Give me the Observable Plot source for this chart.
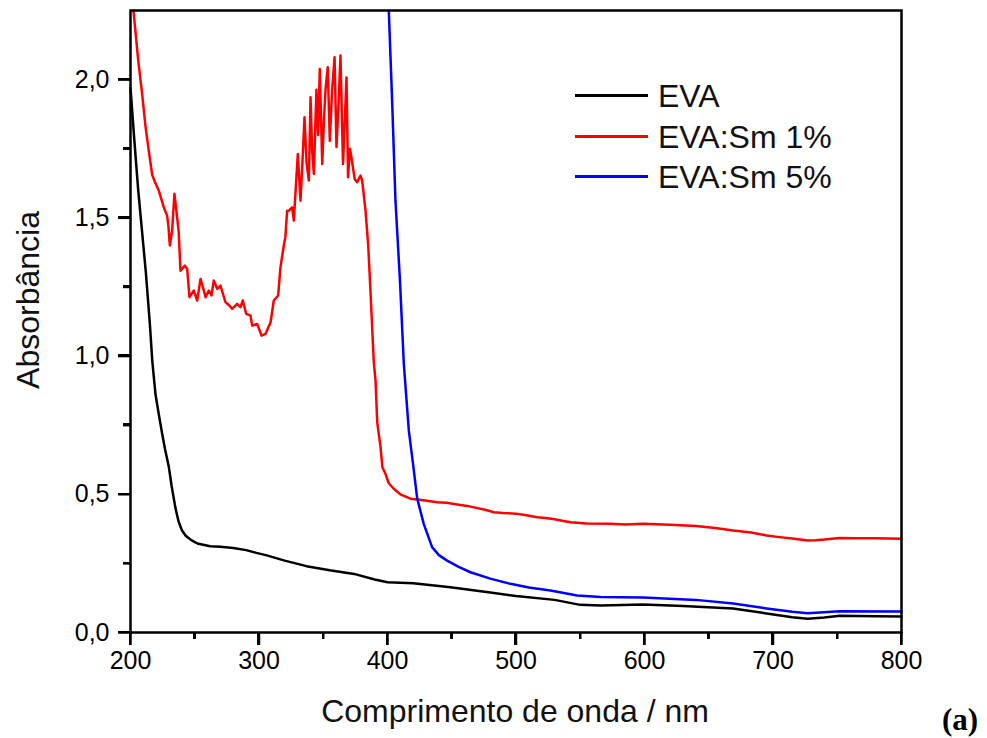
<!DOCTYPE html>
<html>
<head>
<meta charset="utf-8">
<script src="https://cdn.jsdelivr.net/npm/d3@7"></script>
<script src="https://cdn.jsdelivr.net/npm/@observablehq/plot@0.6"></script>
<style>
  body { margin: 0; background: #fff; }
  #wrap { position: relative; width: 987px; height: 738px; font-family: "Liberation Sans", Arial, sans-serif; color: #000; }
  #wrap svg { position: absolute; left: 0; top: 0; font-family: "Liberation Sans", Arial, sans-serif; }
  .ttl { position: absolute; font-size: 32px; line-height: 1; white-space: nowrap; color: #111; }
  #tag { position: absolute; left: 942px; top: 704px; font-family: "Liberation Serif", "Times New Roman", serif; font-weight: bold; font-size: 31px; line-height: 1; }
  .tk { position: absolute; background: #000; }
</style>
</head>
<body>
<div id="wrap">
  <div class="ttl" id="ytitle" style="left:28px; top:300px; transform: translate(-50%,-50%) rotate(-90deg);">Absorbância</div>
  <div class="ttl" id="xtitle" style="left:515px; top:695px; transform: translateX(-50%);">Comprimento de onda / nm</div>
  <div id="tag">(a)</div>
</div>
<script>
// ---- Data ----
const seriesNames = ["EVA", "EVA:Sm 1%", "EVA:Sm 5%"];
const seriesColors = ["#000000", "#ff0000", "#0000ff"];

const evaWl  = [200, 203, 206, 209, 212, 215, 217, 219.5, 222, 224.6, 227, 229.8, 232, 235, 237.5, 240, 243, 247, 252, 262, 270, 280, 290, 298, 306, 320, 337, 355, 374, 390, 400, 420, 449, 480, 500, 530, 550, 566, 599, 630, 669, 695, 715, 727, 740, 752, 780, 800];
const evaAbs = [1.97, 1.78, 1.60, 1.45, 1.30, 1.12, 0.98, 0.86, 0.79, 0.72, 0.66, 0.60, 0.53, 0.45, 0.40, 0.37, 0.35, 0.335, 0.322, 0.312, 0.31, 0.306, 0.298, 0.288, 0.279, 0.26, 0.24, 0.225, 0.212, 0.192, 0.182, 0.178, 0.164, 0.145, 0.132, 0.118, 0.10, 0.098, 0.101, 0.096, 0.087, 0.069, 0.055, 0.05, 0.054, 0.061, 0.059, 0.058];

const sm1Wl  = [202.3, 206, 209, 211.7, 214.2, 216.9, 219, 222, 225.9, 228.5, 229.5, 230.6, 232.4, 234.2, 236.3, 237.5, 238.9, 242.3, 244.1, 245.9, 249.3, 251.9, 254.5, 257.1, 258.4, 261, 263, 264.8, 267.5, 270, 273.9, 276.5, 279.1, 283, 285.6, 287.4, 290, 293.4, 294.7, 298.6, 302, 305, 309, 311.5, 314.9, 316.7, 319.3, 320.5, 321.9, 323.2, 325.8, 327.1, 330.2, 332.3, 333.8, 335.4, 337, 338.8, 340.1, 341.4, 342.7, 344.7, 346, 347.3, 349.2, 350.5, 351.8, 353.5, 355.1, 356.9, 358.8, 360.3, 361.8, 363.4, 365.4, 368.1, 369.3, 370.8, 372.5, 374.5, 376.4, 379, 380.3, 382.9, 385, 386.8, 389.3, 390.7, 392, 394.6, 396, 398.4, 401, 404.9, 410, 417.9, 428, 438.7, 446, 454.2, 462, 470, 476, 482.7, 490, 500, 508, 516.5, 523, 530, 536, 542.4, 555, 573.5, 585, 599, 620, 640, 655, 669, 683, 695, 705, 715, 727, 733, 740, 752, 765, 780, 790, 800];
const sm1Abs = [2.25, 2.07, 1.95, 1.83, 1.743, 1.655, 1.63, 1.599, 1.538, 1.508, 1.47, 1.40, 1.454, 1.587, 1.502, 1.45, 1.309, 1.327, 1.315, 1.213, 1.237, 1.201, 1.279, 1.237, 1.213, 1.237, 1.219, 1.273, 1.243, 1.255, 1.195, 1.185, 1.171, 1.189, 1.177, 1.201, 1.153, 1.146, 1.11, 1.116, 1.074, 1.08, 1.122, 1.201, 1.219, 1.321, 1.40, 1.43, 1.526, 1.526, 1.538, 1.49, 1.731, 1.562, 1.70, 1.864, 1.70, 1.635, 1.936, 1.74, 1.659, 1.963, 1.80, 2.038, 1.695, 1.85, 1.966, 2.045, 1.779, 1.96, 2.081, 1.756, 1.90, 2.087, 1.695, 2.008, 1.647, 1.75, 1.701, 1.64, 1.629, 1.653, 1.635, 1.526, 1.40, 1.23, 0.98, 0.911, 0.76, 0.67, 0.598, 0.574, 0.54, 0.52, 0.50, 0.484, 0.478, 0.471, 0.469, 0.463, 0.458, 0.45, 0.444, 0.435, 0.432, 0.43, 0.424, 0.417, 0.414, 0.41, 0.404, 0.399, 0.394, 0.393, 0.391, 0.393, 0.39, 0.385, 0.378, 0.369, 0.362, 0.351, 0.345, 0.34, 0.333, 0.334, 0.336, 0.342, 0.341, 0.341, 0.340, 0.339];

const sm5Wl  = [401, 403.6, 406.2, 409.7, 412.7, 416.6, 420.2, 423.1, 428.2, 434.7, 440, 446.4, 455, 464.6, 480, 495.7, 510, 526.8, 547.6, 566, 599, 640, 669, 695, 715, 727, 752, 800];
const sm5Abs = [2.25, 1.924, 1.562, 1.273, 0.972, 0.73, 0.597, 0.485, 0.393, 0.309, 0.28, 0.26, 0.238, 0.218, 0.195, 0.176, 0.163, 0.152, 0.134, 0.128, 0.127, 0.118, 0.105, 0.087, 0.075, 0.07, 0.077, 0.076];

const xTicks = [200, 300, 400, 500, 600, 700, 800];
const xMinor = [250, 350, 450, 550, 650, 750];
const yTicks = [0, 0.5, 1.0, 1.5, 2.0];
const yMinor = [0.25, 0.75, 1.25, 1.75];

// ---- Build table ----
const rows = [];
[[evaWl, evaAbs], [sm1Wl, sm1Abs], [sm5Wl, sm5Abs]].forEach(([w, a], i) => {
  w.forEach((x, j) => rows.push({wl: x, abs: a[j], s: seriesNames[i]}));
});

const fmt = d => d.toFixed(1).replace(".", ",");

const chart = Plot.plot({
  width: 987, height: 738, marginLeft: 130, marginRight: 86, marginTop: 10, marginBottom: 106,
  style: {fontSize: "25px", color: "#000"},
  x: {domain: [200, 800]},
  y: {domain: [0, 2.25]},
  color: {domain: seriesNames, range: seriesColors},
  marks: [
    Plot.axisX({ticks: xTicks, tickSize: 13, tickPadding: 6, strokeWidth: 2.5, label: null}),
    Plot.axisX({ticks: xMinor, tickSize: 7, text: null, strokeWidth: 2.5, label: null}),
    Plot.axisY({ticks: yTicks, tickSize: 12, tickPadding: 9, strokeWidth: 2.5, label: null, tickFormat: fmt}),
    Plot.axisY({ticks: yMinor, tickSize: 7, text: null, strokeWidth: 2.5, label: null}),
    Plot.line(rows, {x: "wl", y: "abs", z: "s", stroke: "s", strokeWidth: 2.5}),
    Plot.frame({stroke: "#000", strokeWidth: 2.5})
  ]
});
const wrap = document.getElementById("wrap");
wrap.insertBefore(chart, wrap.firstChild);

// ---- Outward tick marks, placed through the plot's own scales ----
const sx = chart.scale("x"), sy = chart.scale("y");
const x0 = sx.apply(200), y0 = sy.apply(0);
function addTick(left, top, w, h) {
  const d = document.createElement("div");
  d.className = "tk";
  d.style.left = left + "px"; d.style.top = top + "px";
  d.style.width = w + "px"; d.style.height = h + "px";
  wrap.appendChild(d);
}
xTicks.forEach(v => addTick(sx.apply(v) - 1.25, y0, 2.5, 13));
xMinor.forEach(v => addTick(sx.apply(v) - 1.25, y0, 2.5, 7));
yTicks.forEach(v => addTick(x0 - 12, sy.apply(v) - 1.25, 12, 2.5));
yMinor.forEach(v => addTick(x0 - 7, sy.apply(v) - 1.25, 7, 2.5));

// ---- Legend (inside the SVG) ----
const leg = d3.select(chart).append("g").attr("aria-label", "legend");
const legY = [95.5, 136.5, 176.5];
seriesNames.forEach((name, i) => {
  leg.append("line").attr("x1", 575).attr("x2", 648).attr("y1", legY[i]).attr("y2", legY[i])
    .attr("stroke", seriesColors[i]).attr("stroke-width", 3);
  leg.append("text").attr("x", 658).attr("y", legY[i] + 11.5).attr("text-anchor", "start")
    .attr("font-size", 32).attr("fill", "#111").text(name);
});
</script>
</body>
</html>
